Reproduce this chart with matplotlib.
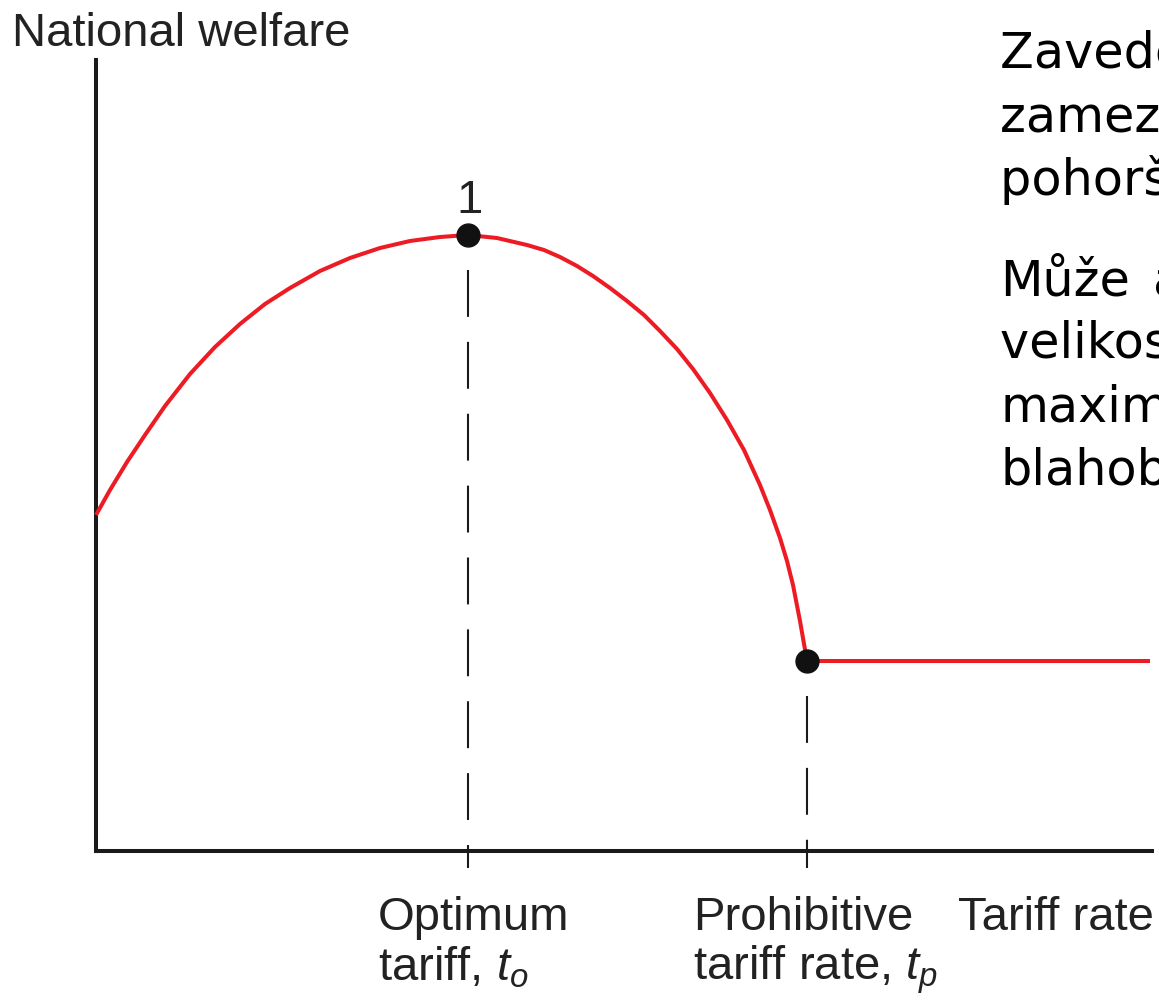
import matplotlib
matplotlib.use("Agg")
import matplotlib.pyplot as plt

# fonts: Helvetica-like for the diagram, Verdana-like for the slide text
plt.rcParams['mathtext.fontset'] = 'custom'
plt.rcParams['mathtext.rm'] = 'Liberation Sans'
plt.rcParams['mathtext.it'] = 'Liberation Sans:italic'

# welfare curve (tariff, welfare)
tariff = [0.00, 0.14, 0.31, 0.49, 0.69, 0.94, 1.19, 1.44, 1.69, 1.94, 2.24, 2.54,
          2.84, 3.14, 3.44, 3.72,
          4.01, 4.31, 4.48, 4.64, 4.81, 4.97, 5.14, 5.31, 5.48, 5.64, 5.81, 5.97,
          6.14, 6.31, 6.48, 6.64, 6.74, 6.84, 6.91, 6.97, 7.04, 7.11, 10.54]
welfare = [3.36, 3.61, 3.89, 4.16, 4.45, 4.77, 5.04, 5.27, 5.47, 5.63, 5.80, 5.93,
           6.03, 6.10, 6.14, 6.16,
           6.13, 6.06, 6.01, 5.94, 5.85, 5.75, 5.63, 5.50, 5.36, 5.20, 5.02, 4.82,
           4.58, 4.31, 4.01, 3.66, 3.41, 3.13, 2.90, 2.66, 2.30, 1.90, 1.90]

# marked points: optimum tariff and prohibitive tariff
point_t = [3.72, 7.11]
point_w = [6.16, 1.90]

y_label = "National welfare"
x_label = "Tariff rate"
point_label = "1"
tick_labels = [("Optimum", "tariff, $t_o$"), ("Prohibitive", "tariff rate, $t_p$")]

# slide text, cut off by the right edge in the original
para1 = ["Zavedení cla může", "zamezit obchodu a", "pohoršit blahobyt."]
para2 = ["Může", "velikost cla, která", "maximalizuje", "blahobyt."]
para2_tail = "ale existovat"

W, H = 1159, 1006
fig = plt.figure(figsize=(W / 100, H / 100), dpi=100)


def fx(px):
    return px / W


def fy(py):
    return 1 - py / H


ax = fig.add_axes([fx(96), fy(851), fx(1152) - fx(96), fy(60) - fy(851)])
ax.set_xlim(0, 10.56)
ax.set_ylim(0, 7.91)
for side in ['top', 'right']:
    ax.spines[side].set_visible(False)
for side in ['left', 'bottom']:
    ax.spines[side].set_linewidth(2.9)
    ax.spines[side].set_color('#1a1a1a')
ax.set_xticks([])
ax.set_yticks([])

# dashed drop lines
for t, w in zip(point_t, point_w):
    ax.plot([t, t], [w - 0.35, -0.17], color='#1a1a1a', lw=1.5,
            dashes=(22.5, 12), clip_on=False, zorder=2)

ax.plot(tariff, welfare, color='#ed1c24', lw=2.9, solid_joinstyle='round',
        solid_capstyle='butt', clip_on=False, zorder=3)
ax.plot(point_t, point_w, 'o', color='#111111', ms=16.5, clip_on=False, zorder=4)

diag = dict(family='Liberation Sans', fontsize=34, color='#222222')
fig.text(fx(12), fy(46), y_label, va='baseline', ha='left', **diag)
fig.text(fx(470), fy(213), point_label, va='baseline', ha='center', **diag)
fig.text(fx(958), fy(930), x_label, va='baseline', ha='left', **diag)
for (l1, l2), left in zip(tick_labels, [378, 693]):
    fig.text(fx(left), fy(930), l1, va='baseline', ha='left', **diag)
    fig.text(fx(left), fy(980), l2, va='baseline', ha='left', **diag)

slide = dict(family='DejaVu Sans', fontsize=35.5, color='black')
for line, base in zip(para1, [68, 132, 195]):
    fig.text(fx(1000), fy(base), line, va='baseline', ha='left', **slide)
for line, base in zip(para2, [295, 358, 422, 485]):
    fig.text(fx(1000), fy(base), line, va='baseline', ha='left', **slide)
fig.text(fx(1153), fy(295), para2_tail, va='baseline', ha='left', **slide)

fig.savefig("out.png", dpi=100)
